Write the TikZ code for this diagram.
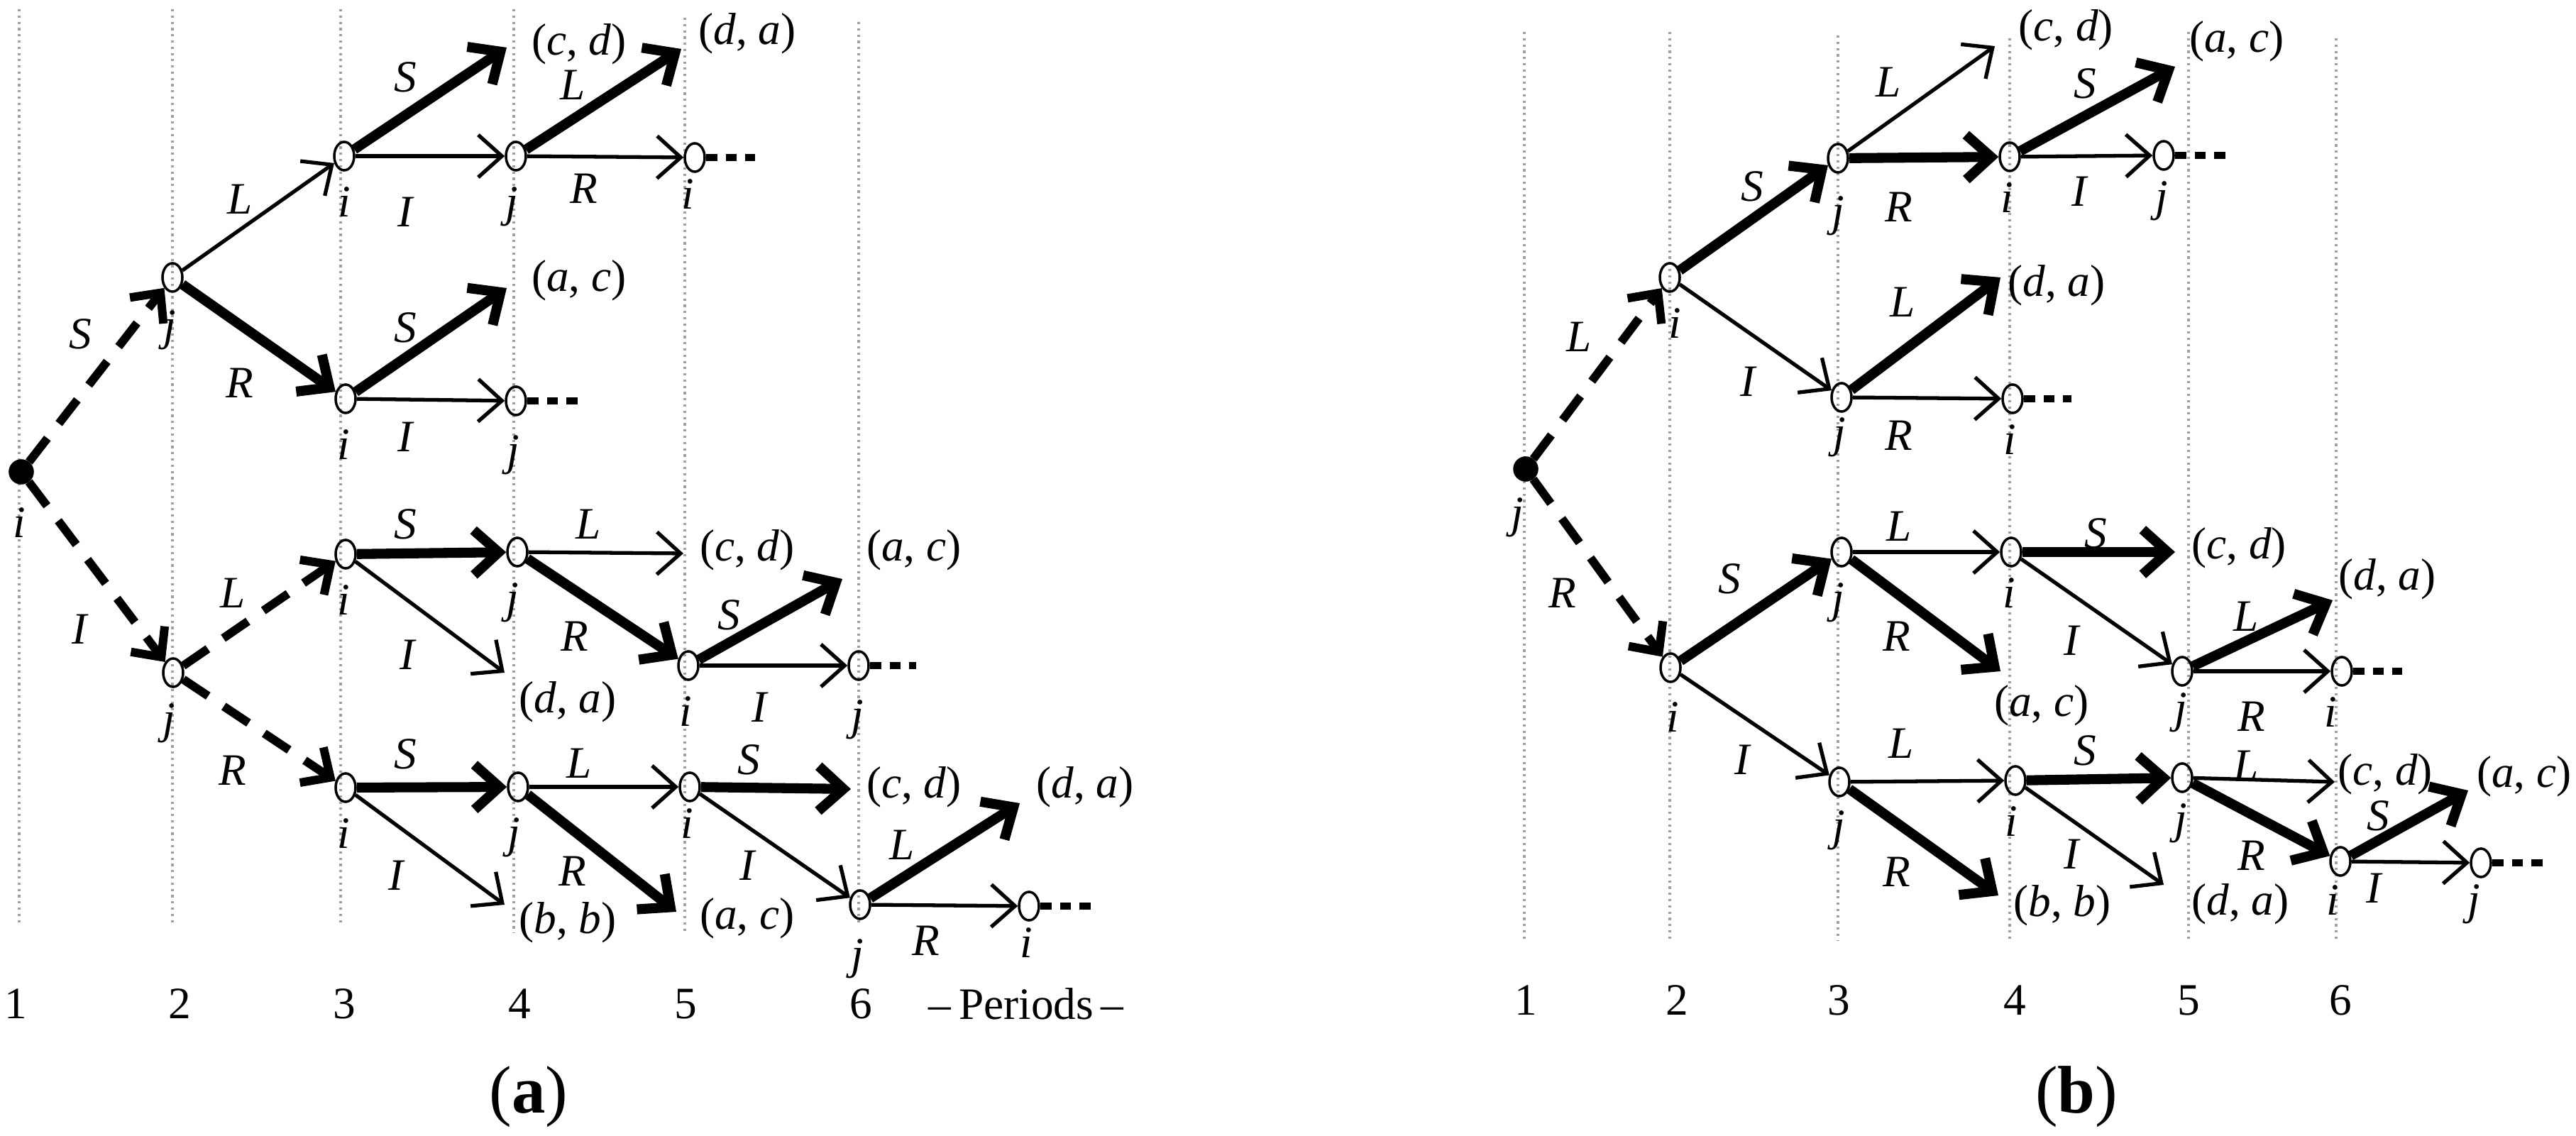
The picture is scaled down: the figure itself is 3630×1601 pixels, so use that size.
\documentclass[tikz,border=0pt]{standalone}
\usepackage{fontspec}
\setmainfont{Liberation Serif}
\usetikzlibrary{arrows.meta,shapes.geometric}
\newcommand\myfs{\fontsize{18}{21}\selectfont}
\tikzset{
 vln/.style={gray!75, line width=0.9pt, dash pattern=on 0.9pt off 1.6pt},
 nd/.style={ellipse, draw, line width=1pt, minimum width=0.28cm, minimum height=0.4cm, inner sep=0pt},
 rootnd/.style={ellipse, draw, fill=black, line width=1pt, minimum width=0.32cm, minimum height=0.32cm, inner sep=0pt},
 thn/.style={line width=1.5pt, -{Straight Barb[length=9.5pt,width=17pt]}},
 thk/.style={line width=4pt, -{Straight Barb[length=10pt,width=18pt]}},
 dsh/.style={line width=3.4pt, dash pattern=on 12pt off 7.5pt, -{Straight Barb[length=9pt,width=17pt]}},
 tailx/.style={line width=2.8pt, dash pattern=on 4.5pt off 3.4pt},
 el/.style={font=\myfs\itshape, inner sep=0pt},
 nl/.style={font=\myfs\itshape, inner sep=0pt, anchor=base},
 pay/.style={font=\myfs, inner sep=0pt},
 per/.style={font=\myfs, inner sep=0pt},
 captxt/.style={font=\fontsize{27}{30}\selectfont, inner sep=0pt},
}
\begin{document}
\begin{tikzpicture}[x=0.01cm,y=-0.01cm]
\useasboundingbox (0,0) rectangle (3630,1601);
% ---------- panel (a) period lines
\draw[vln] (27,13) -- (27,1303);
\draw[vln] (243,13) -- (243,1303);
\draw[vln] (480,13) -- (480,1303);
\draw[vln] (724,13) -- (724,1315);
\draw[vln] (965,25) -- (965,1315);
\draw[vln] (1210,31) -- (1210,1303);
% ---------- panel (b) period lines
\draw[vln] (2148,45) -- (2148,1323);
\draw[vln] (2353,45) -- (2353,1323);
\draw[vln] (2590,50) -- (2590,1325);
\draw[vln] (2832,54) -- (2832,1328);
\draw[vln] (3084,45) -- (3084,1328);
\draw[vln] (3292,54) -- (3292,1328);

% ---------- panel (a) nodes
\node[rootnd] (A1) at (30,665) {};
\node[nd] (A2u) at (243,391) {};
\node[nd] (A2l) at (244,948) {};
\node[nd] (A3a) at (485,220) {};
\node[nd] (A3b) at (487,562) {};
\node[nd] (A3c) at (487,781) {};
\node[nd] (A3d) at (487,1110) {};
\node[nd] (A4a) at (727,220) {};
\node[nd] (A4b) at (727,565) {};
\node[nd] (A4c) at (729,778) {};
\node[nd] (A4d) at (730,1109) {};
\node[nd] (A5a) at (979,222) {};
\node[nd] (A5c) at (970,938) {};
\node[nd] (A5d) at (972,1109) {};
\node[nd] (A6c) at (1210,938) {};
\node[nd] (A6d) at (1212,1275) {};
\node[nd] (A7d) at (1450,1277) {};
% node names below
\node[nl] (A1n) at ([xshift=-0.03cm,yshift=-0.92cm]A1.center) {i};
\node[nl] (A2un) at ([xshift=-0.04cm,yshift=-0.88cm]A2u.center) {j};
\node[nl] (A2ln) at ([xshift=-0.06cm,yshift=-0.85cm]A2l.center) {j};
\node[nl] (A3an) at ([yshift=-0.85cm]A3a.center) {i};
\node[nl] (A3bn) at ([xshift=-0.03cm,yshift=-0.85cm]A3b.center) {i};
\node[nl] (A3cn) at ([xshift=-0.03cm,yshift=-0.85cm]A3c.center) {i};
\node[nl] (A3dn) at ([xshift=-0.03cm,yshift=-0.85cm]A3d.center) {i};
\node[nl] (A4an) at ([xshift=-0.06cm,yshift=-0.85cm]A4a.center) {j};
\node[nl] (A4bn) at ([xshift=-0.04cm,yshift=-0.9cm]A4b.center) {j};
\node[nl] (A4cn) at ([xshift=-0.07cm,yshift=-0.85cm]A4c.center) {j};
\node[nl] (A4dn) at ([xshift=-0.06cm,yshift=-0.85cm]A4d.center) {j};
\node[nl] (A5an) at ([xshift=-0.1cm,yshift=-0.72cm]A5a.center) {i};
\node[nl] (A5cn) at ([xshift=-0.04cm,yshift=-0.85cm]A5c.center) {i};
\node[nl] (A5dn) at ([xshift=-0.04cm,yshift=-0.72cm]A5d.center) {i};
\node[nl] (A6cn) at ([xshift=-0.02cm,yshift=-0.9cm]A6c.center) {j};
\node[nl] (A6dn) at ([xshift=-0.04cm,yshift=-0.9cm]A6d.center) {j};
\node[nl] (A7dn) at ([xshift=-0.04cm,yshift=-0.72cm]A7d.center) {i};
% terminal tips (a)
\coordinate (t1) at (714,67);
\coordinate (t2) at (960,69);
\coordinate (t3) at (714,406);
\coordinate (t4) at (711,948);
\coordinate (t5) at (963,780);
\coordinate (t6) at (1187,816);
\coordinate (t7) at (711,1275);
\coordinate (t8) at (953,1285);
\coordinate (t9) at (1199,1112);
\coordinate (t10) at (1437,1132);
% payoffs (a)
\node[pay] (p1) at (816,62) {(\textit{c}, \textit{d})};
\node[pay] (p2) at (1053,47) {(\textit{d}, \textit{a})};
\node[pay] (p3) at (816,395) {(\textit{a}, \textit{c})};
\node[pay] (p4) at (800,989) {(\textit{d}, \textit{a})};
\node[pay] (p5) at (1053,775) {(\textit{c}, \textit{d})};
\node[pay] (p6) at (1288,775) {(\textit{a}, \textit{c})};
\node[pay] (p7) at (800,1300) {(\textit{b}, \textit{b})};
\node[pay] (p8) at (1053,1294) {(\textit{a}, \textit{c})};
\node[pay] (p9) at (1288,1109) {(\textit{c}, \textit{d})};
\node[pay] (p10) at (1529,1109) {(\textit{d}, \textit{a})};
% edges (a)
\draw[dsh] (A1) -- (A2u);
\draw[dsh] (A1) -- (A2l);
\draw[thn] (A2u) -- (A3a);
\draw[thk] (A2u) -- (A3b);
\draw[thk] (A3a) -- (t1);
\draw[thn] (A3a) -- (A4a);
\draw[thk] (A4a) -- (t2);
\draw[thn] (A4a) -- (A5a);
\draw[thk] (A3b) -- (t3);
\draw[thn] (A3b) -- (A4b);
\draw[dsh] (A2l) -- (A3c);
\draw[dsh] (A2l) -- (A3d);
\draw[thk] (A3c) -- (A4c);
\draw[thn] (A3c) -- (t4);
\draw[thn] (A4c) -- (t5);
\draw[thk] (A4c) -- (A5c);
\draw[thk] (A5c) -- (t6);
\draw[thn] (A5c) -- (A6c);
\draw[thk] (A3d) -- (A4d);
\draw[thn] (A3d) -- (t7);
\draw[thn] (A4d) -- (A5d);
\draw[thk] (A4d) -- (t8);
\draw[thk] (A5d) -- (t9);
\draw[thn] (A5d) -- (A6d);
\draw[thk] (A6d) -- (t10);
\draw[thn] (A6d) -- (A7d);
% continuation tails (a)
\coordinate (ta1) at (1064,222);
\coordinate (ta2) at (820,565);
\coordinate (ta3) at (1291,938);
\coordinate (ta4) at (1543,1277);
\draw[tailx] (A5a.east) -- (ta1);
\draw[tailx] (A4b.east) -- (ta2);
\draw[tailx] (A6c.east) -- (ta3);
\draw[tailx] (A7d.east) -- (ta4);
% edge labels (a)
\node[el] (ea1) at (113,471) {S};
\node[el] (ea2) at (112,887) {I};
\node[el] (ea3) at (338,281) {L};
\node[el] (ea4) at (338,540) {R};
\node[el] (ea5) at (571,109) {S};
\node[el] (ea6) at (571,299) {I};
\node[el] (ea7) at (807,120) {L};
\node[el] (ea8) at (823,266) {R};
\node[el] (ea9) at (571,462) {S};
\node[el] (ea10) at (571,616) {I};
\node[el] (ea11) at (328,836) {L};
\node[el] (ea12) at (328,1086) {R};
\node[el] (ea13) at (571,739) {S};
\node[el] (ea14) at (574,923) {I};
\node[el] (ea15) at (829,739) {L};
\node[el] (ea16) at (810,897) {R};
\node[el] (ea17) at (1027,867) {S};
\node[el] (ea18) at (1070,997) {I};
\node[el] (ea19) at (571,1063) {S};
\node[el] (ea20) at (558,1234) {I};
\node[el] (ea21) at (816,1076) {L};
\node[el] (ea22) at (807,1228) {R};
\node[el] (ea23) at (1055,1071) {S};
\node[el] (ea24) at (1053,1220) {I};
\node[el] (ea25) at (1271,1191) {L};
\node[el] (ea26) at (1305,1326) {R};
% periods (a)
\node[per] (pa1) at (22,1415) {1};
\node[per] (pa2) at (253,1415) {2};
\node[per] (pa3) at (485,1415) {3};
\node[per] (pa4) at (732,1415) {4};
\node[per] (pa5) at (966,1415) {5};
\node[per] (pa6) at (1213,1415) {6};
\node[per] (pa7) at (1446,1415) {\textendash\,Periods\,\textendash};
\node[captxt] (capa) at (745,1546) {(\textbf{a})};

% ---------- panel (b) nodes
\node[rootnd] (B1) at (2150,661) {};
\node[nd] (B2u) at (2353,391) {};
\node[nd] (B2l) at (2354,941) {};
\node[nd] (B3a) at (2590,223) {};
\node[nd] (B3b) at (2595,560) {};
\node[nd] (B3c) at (2595,778) {};
\node[nd] (B3d) at (2592,1102) {};
\node[nd] (B4a) at (2832,221) {};
\node[nd] (B4b) at (2836,562) {};
\node[nd] (B4c) at (2834,778) {};
\node[nd] (B4d) at (2840,1100) {};
\node[nd] (B5a) at (3049,219) {};
\node[nd] (B5c) at (3075,946) {};
\node[nd] (B5d) at (3075,1096) {};
\node[nd] (B6c) at (3300,946) {};
\node[nd] (B6d) at (3298,1214) {};
\node[nd] (B7d) at (3496,1216) {};
\node[nl] (B1n) at ([xshift=-0.12cm,yshift=-0.82cm]B1.center) {j};
\node[nl] (B2un) at ([xshift=0.07cm,yshift=-0.85cm]B2u.center) {i};
\node[nl] (B2ln) at ([xshift=0.03cm,yshift=-0.9cm]B2l.center) {i};
\node[nl] (B3an) at ([yshift=-0.95cm]B3a.center) {j};
\node[nl] (B3bn) at ([xshift=-0.03cm,yshift=-0.7cm]B3b.center) {j};
\node[nl] (B3cn) at ([xshift=-0.05cm,yshift=-0.85cm]B3c.center) {j};
\node[nl] (B3dn) at ([xshift=-0.01cm,yshift=-0.82cm]B3d.center) {j};
\node[nl] (B4an) at ([xshift=-0.04cm,yshift=-0.78cm]B4a.center) {i};
\node[nl] (B4bn) at ([xshift=-0.04cm,yshift=-0.78cm]B4b.center) {i};
\node[nl] (B4cn) at ([xshift=-0.03cm,yshift=-0.78cm]B4c.center) {i};
\node[nl] (B4dn) at ([xshift=-0.06cm,yshift=-0.78cm]B4d.center) {i};
\node[nl] (B5an) at ([xshift=-0.03cm,yshift=-0.78cm]B5a.center) {j};
\node[nl] (B5cn) at ([xshift=-0.02cm,yshift=-0.72cm]B5c.center) {j};
\node[nl] (B5dn) at ([xshift=-0.02cm,yshift=-0.78cm]B5d.center) {j};
\node[nl] (B6cn) at ([xshift=-0.16cm,yshift=-0.78cm]B6c.center) {i};
\node[nl] (B6dn) at ([xshift=-0.11cm,yshift=-0.75cm]B6d.center) {i};
\node[nl] (B7dn) at ([xshift=-0.1cm,yshift=-0.72cm]B7d.center) {j};
% terminal tips (b)
\coordinate (u1) at (2811,65);
\coordinate (u2) at (3065,94);
\coordinate (u3) at (2819,391);
\coordinate (u4) at (2819,946);
\coordinate (u5) at (3065,778);
\coordinate (u6) at (3287,846);
\coordinate (u7) at (2816,1262);
\coordinate (u8) at (3049,1247);
\coordinate (u9) at (3290,1102);
\coordinate (u10) at (3478,1114);
% payoffs (b)
\node[pay] (q1) at (2911,42) {(\textit{c}, \textit{d})};
\node[pay] (q2) at (3152,58) {(\textit{a}, \textit{c})};
\node[pay] (q3) at (2898,402) {(\textit{d}, \textit{a})};
\node[pay] (q4) at (2877,994) {(\textit{a}, \textit{c})};
\node[pay] (q5) at (3155,772) {(\textit{c}, \textit{d})};
\node[pay] (q6) at (3364,816) {(\textit{d}, \textit{a})};
\node[pay] (q7) at (2906,1276) {(\textit{b}, \textit{b})};
\node[pay] (q8) at (3157,1274) {(\textit{d}, \textit{a})};
\node[pay] (q9) at (3361,1091) {(\textit{c}, \textit{d})};
\node[pay] (q10) at (3557,1094) {(\textit{a}, \textit{c})};
% edges (b)
\draw[dsh] (B1) -- (B2u);
\draw[dsh] (B1) -- (B2l);
\draw[thk] (B2u) -- (B3a);
\draw[thn] (B2u) -- (B3b);
\draw[thn] (B3a) -- (u1);
\draw[thk] (B3a) -- (B4a);
\draw[thk] (B4a) -- (u2);
\draw[thn] (B4a) -- (B5a);
\draw[thk] (B3b) -- (u3);
\draw[thn] (B3b) -- (B4b);
\draw[thk] (B2l) -- (B3c);
\draw[thn] (B2l) -- (B3d);
\draw[thn] (B3c) -- (B4c);
\draw[thk] (B3c) -- (u4);
\draw[thk] (B4c) -- (u5);
\draw[thn] (B4c) -- (B5c);
\draw[thk] (B5c) -- (u6);
\draw[thn] (B5c) -- (B6c);
\draw[thn] (B3d) -- (B4d);
\draw[thk] (B3d) -- (u7);
\draw[thk] (B4d) -- (B5d);
\draw[thn] (B4d) -- (u8);
\draw[thn] (B5d) -- (u9);
\draw[thk] (B5d) -- (B6d);
\draw[thk] (B6d) -- (u10);
\draw[thn] (B6d) -- (B7d);
% tails (b)
\coordinate (tb1) at (3136,219);
\coordinate (tb2) at (2919,562);
\coordinate (tb3) at (3385,946);
\coordinate (tb4) at (3589,1216);
\draw[tailx] (B5a.east) -- (tb1);
\draw[tailx] (B4b.east) -- (tb2);
\draw[tailx] (B6c.east) -- (tb3);
\draw[tailx] (B7d.east) -- (tb4);
% edge labels (b)
\node[el] (eb1) at (2225,475) {L};
\node[el] (eb2) at (2202,836) {R};
\node[el] (eb3) at (2469,263) {S};
\node[el] (eb4) at (2463,538) {I};
\node[el] (eb5) at (2661,116) {L};
\node[el] (eb6) at (2676,292) {R};
\node[el] (eb7) at (2938,118) {S};
\node[el] (eb8) at (2930,270) {I};
\node[el] (eb9) at (2681,426) {L};
\node[el] (eb10) at (2676,614) {R};
\node[el] (eb11) at (2437,816) {S};
\node[el] (eb12) at (2455,1071) {I};
\node[el] (eb13) at (2676,742) {L};
\node[el] (eb14) at (2673,897) {R};
\node[el] (eb15) at (2953,752) {S};
\node[el] (eb16) at (2919,903) {I};
\node[el] (eb17) at (3165,869) {L};
\node[el] (eb18) at (3173,1010) {R};
\node[el] (eb19) at (2679,1048) {L};
\node[el] (eb20) at (2673,1229) {R};
\node[el] (eb21) at (2938,1058) {S};
\node[el] (eb22) at (2919,1204) {I};
\node[el] (eb23) at (3165,1079) {L};
\node[el] (eb24) at (3173,1206) {R};
\node[el] (eb25) at (3351,1150) {S};
\node[el] (eb26) at (3345,1252) {I};
% periods (b)
\node[per] (pb1) at (2150,1410) {1};
\node[per] (pb2) at (2363,1410) {2};
\node[per] (pb3) at (2591,1410) {3};
\node[per] (pb4) at (2839,1410) {4};
\node[per] (pb5) at (3084,1410) {5};
\node[per] (pb6) at (3298,1410) {6};
\node[captxt] (capb) at (2926,1546) {(\textbf{b})};
\end{tikzpicture}
\end{document}
